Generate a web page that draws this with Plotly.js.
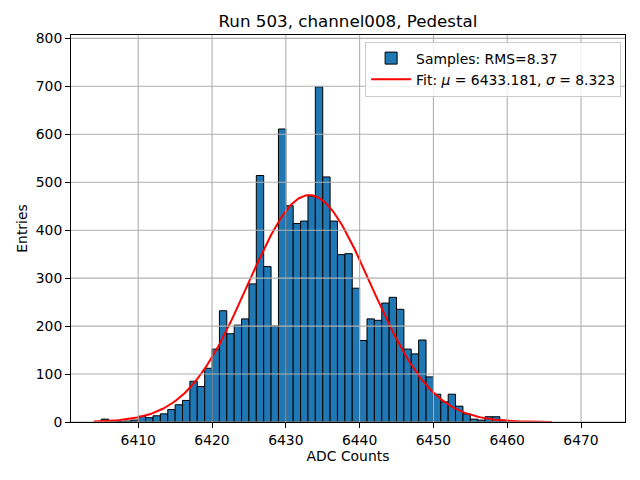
<!DOCTYPE html>
<html><head><meta charset="utf-8">
<script src="https://cdn.plot.ly/plotly-3.0.1.min.js"></script>
<style>html,body{margin:0;padding:0;background:#fff}</style>
</head><body>
<div id="chart" style="width:640px;height:480px"></div>
<script>
// Histogram bins (left edges, width 1) and counts
const binLeftEdges = [6404,6405,6406,6407,6408,6409,
  6410,6411,6412,6413,6414,6415,6416,6417,6418,6419,
  6420,6421,6422,6423,6424,6425,6426,6427,6428,6429,
  6430,6431,6432,6433,6434,6435,6436,6437,6438,6439,
  6440,6441,6442,6443,6444,6445,6446,6447,6448,6449,
  6450,6451,6452,6453,6454,6455,6456,6457,6458,6459,
  6460,6461,6462,6463,6464,6465];
const binCounts = [1,6,2,1,2,4,
  12,9,13,17,26,36,45,85,74,112,
  152,232,184,202,215,288,514,324,200,611,
  451,414,419,471,699,511,419,349,351,279,
  170,215,212,248,260,235,152,142,171,94,
  58,42,58,33,17,6,4,11,11,1,
  0,1,0,0,0,1];
const binWidth = 1;

// Gaussian fit parameters (from the legend) and the range it is drawn over
const fitMu = 6433.181;
const fitSigma = 8.323;
const fitRange = [6404, 6466];
const rmsLabel = "8.37";

const xTicks = [6410,6420,6430,6440,6450,6460,6470];
const yTicks = [0,100,200,300,400,500,600,700,800];

const total = binCounts.reduce((a,b)=>a+b,0);
const amp = total*binWidth/(fitSigma*Math.sqrt(2*Math.PI));
const fitX = [], fitY = [];
const nPts = 300;
for (let i=0;i<nPts;i++){
  const x = fitRange[0] + (fitRange[1]-fitRange[0])*i/(nPts-1);
  fitX.push(x);
  fitY.push(amp*Math.exp(-0.5*Math.pow((x-fitMu)/fitSigma,2)));
}

const font = "DejaVu Sans, sans-serif";

const barTrace = {
  type:'bar',
  x: binLeftEdges.map(e=>e+binWidth/2),
  y: binCounts,
  width: binWidth,
  marker:{color:'#1f77b4', line:{color:'#000000', width:1}},
  name:'Samples: RMS=' + rmsLabel,
  hoverinfo:'skip'
};
const fitTrace = {
  type:'scatter', mode:'lines',
  x: fitX, y: fitY,
  line:{color:'#ff0000', width:2},
  name:'Fit: <i>μ</i> = ' + fitMu.toFixed(3) + ', <i>σ</i> = ' + fitSigma.toFixed(3),
  hoverinfo:'skip'
};

const shapes = [];
xTicks.forEach(v=>shapes.push({type:'line', xref:'x', yref:'paper', x0:v, x1:v, y0:0, y1:1,
  line:{color:'#b0b0b0', width:1.1}, layer:'above'}));
yTicks.forEach(v=>shapes.push({type:'line', xref:'paper', yref:'y', x0:0, x1:1, y0:v, y1:v,
  line:{color:'#b0b0b0', width:1.1}, layer:'above'}));

const layout = {
  width:640, height:480,
  paper_bgcolor:'#ffffff', plot_bgcolor:'#ffffff',
  margin:{l:71, r:15, t:35, b:58, pad:0},
  font:{family:font, size:14, color:'#000'},
  title:{text:'Run 503, channel008, Pedestal', font:{family:font, size:16.7, color:'#000'},
    x:0.5, xref:'paper', xanchor:'center', y:1-21/480, yref:'container', yanchor:'middle'},
  bargap:0,
  showlegend:true,
  legend:{x:0.993, y:0.983, xanchor:'right', yanchor:'top',
    bgcolor:'rgba(255,255,255,0.8)', bordercolor:'#cccccc', borderwidth:1,
    font:{family:font, size:13.9, color:'#000'}, tracegroupgap:0, itemwidth:40},
  xaxis:{range:[6400.89, 6475.96], tickvals:xTicks, ticktext:xTicks.map(String),
    showgrid:false, zeroline:false, showline:true, mirror:true, linecolor:'#000', linewidth:1,
    ticks:'outside', ticklen:5, tickwidth:1, tickcolor:'#000',
    tickfont:{family:font, size:13.9, color:'#000'},
    title:{text:'ADC Counts', font:{family:font, size:13.9, color:'#000'}, standoff:4}},
  yaxis:{range:[0, 807], tickvals:yTicks, ticktext:yTicks.map(String),
    showgrid:false, zeroline:false, showline:true, mirror:true, linecolor:'#000', linewidth:1,
    ticks:'outside', ticklen:5, tickwidth:1, tickcolor:'#000',
    tickfont:{family:font, size:13.9, color:'#000'},
    title:{text:'Entries', font:{family:font, size:13.9, color:'#000'}, standoff:4}},
  shapes:shapes
};

Plotly.newPlot('chart', [barTrace, fitTrace], layout, {displayModeBar:false, staticPlot:true});
</script>
</body></html>
